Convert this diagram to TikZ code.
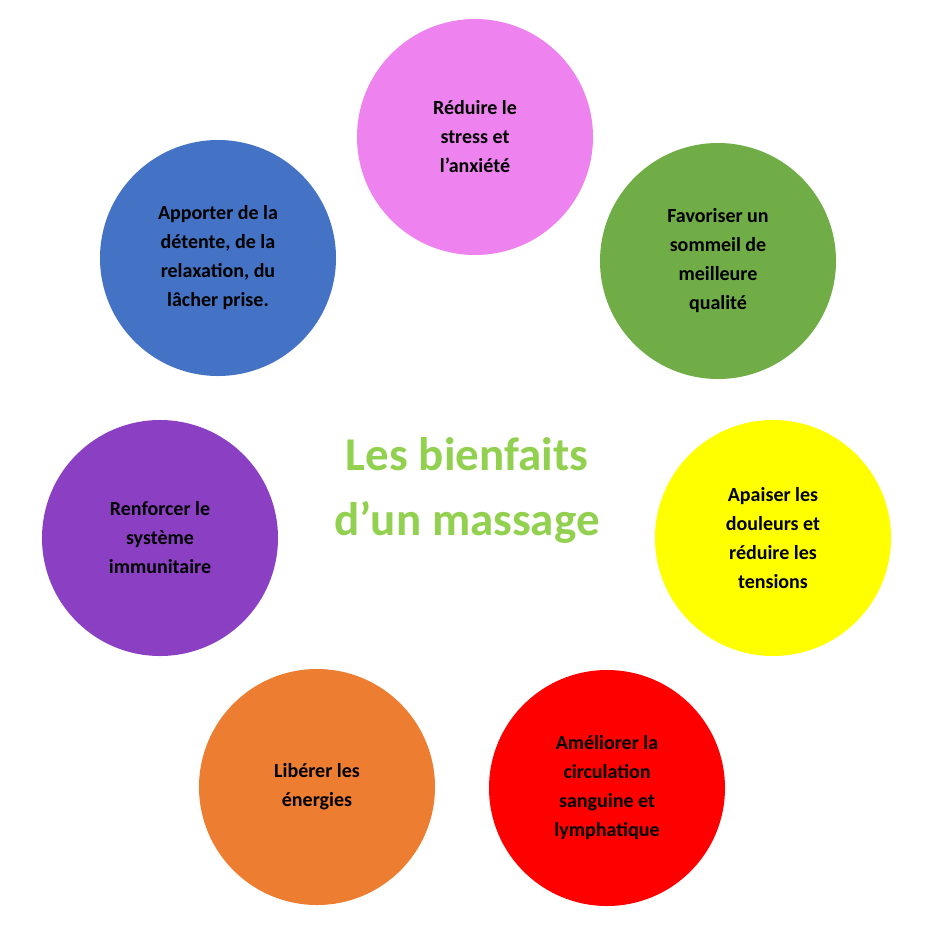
\documentclass[tikz,border=0pt]{standalone}
\usepackage{fontspec}
\setmainfont{Carlito}
\definecolor{cpink}{HTML}{EE82EE}
\definecolor{cgreen}{HTML}{70AD47}
\definecolor{cyel}{HTML}{FFFF00}
\definecolor{cred}{HTML}{FF0000}
\definecolor{corange}{HTML}{ED7D31}
\definecolor{cpurple}{HTML}{8B40C3}
\definecolor{cblue}{HTML}{4472C4}
\definecolor{ctitle}{HTML}{92D050}
\begin{document}
\begin{tikzpicture}[x=1pt,y=-1pt,
  bubble/.style={circle,minimum size=236pt,inner sep=0pt,align=center,
    font=\fontsize{20}{29}\selectfont\bfseries,text=black}]
\useasboundingbox (0,0) rectangle (929,924);
\fill[white] (0,0) rectangle (929,924);
\node[bubble,fill=cpink] (p) at (475,137) {Réduire le\\stress et\\l'anxiété};
\node[bubble,fill=cgreen] (g) at (718,261) {Favoriser un\\sommeil de\\meilleure\\qualité};
\node[bubble,fill=cyel] (y) at (773,538) {Apaiser les\\douleurs et\\réduire les\\tensions};
\node[bubble,fill=cred] (r) at (607,788) {Améliorer la\\circulation\\sanguine et\\lymphatique};
\node[bubble,fill=corange] (o) at (317,787) {Libérer les\\énergies};
\node[bubble,fill=cpurple] (u) at (160,538) {Renforcer le\\système\\immunitaire};
\node[bubble,fill=cblue] (b) at (218,258) {Apporter de la\\détente, de la\\relaxation, du\\lâcher prise.};
\node[align=center,text=ctitle,font=\fontsize{47}{65}\selectfont\bfseries] (t) at (467,490) {Les bienfaits\\d’un massage};
\end{tikzpicture}
\end{document}
